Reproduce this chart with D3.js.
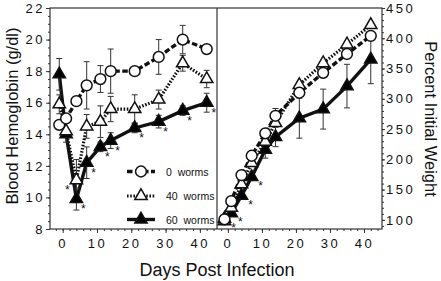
<!DOCTYPE html>
<html>
<head>
<meta charset="utf-8">
<script src="https://cdn.jsdelivr.net/npm/d3@7/dist/d3.min.js"></script>
<style>
  body { margin: 0; background: #fff; }
  svg { display: block; }
  text { font-family: "Liberation Sans", Arial, sans-serif; fill: #111; }
</style>
</head>
<body>
<div id="chart"></div>
<script>
// days after infection (same for both panels)
const days = [-1, 1, 4, 7, 11, 14, 21, 28, 35, 42];
const seriesNames = ["0  worms", "40  worms", "60  worms"];

// blood hemoglobin (g/dl)
const hb0 = [14.6, 15.0, 16.1, 17.1, 17.5, 18.0, 18.0, 18.9, 20.0, 19.4];
const hb40 = [15.9, 14.2, 11.1, 14.5, 14.8, 15.6, 15.6, 16.2, 18.5, 17.5];
const hb60 = [17.8, 14.0, 9.9, 12.2, 13.2, 13.6, 14.4, 14.8, 15.5, 16.0];
const hbErr0 = [0, 0, 0, 1.5, 0.85, 1.4, 0, 1.1, 0.9, 0];
const hbErr40 = [0.6, 0.7, 1.3, 0.75, 1.0, 0.8, 0.9, 0.6, 0.5, 0.55];
const hbErr60 = [1.0, 0, 0.7, 1.0, 0.3, 0.5, 0.3, 0.4, 0.3, 0.6];

// percent initial weight
const wt0 = [101, 131, 174, 206, 243, 272, 310, 343, 374, 404];
const wt40 = [98, 120, 159, 194, 229, 260, 323, 359, 390, 422];
const wt60 = [102, 111, 140, 171, 216, 237, 268, 283, 321, 365];
const wtErr0 = [0, 0, 0, 0, 0, 12, 0, 0, 0, 0];
const wtErr40 = [0, 0, 0, 0, 0, 0, 0, 0, 0, 0];
const wtErr60 = [0, 0, 0, 0, 14, 16, 33, 33, 36, 40];

// significance marks (days)
const hbStars60 = [4, 7, 11, 14, 21, 28, 35, 42];
const hbStars40 = [4];
const wtStars60 = [-1, 1, 4, 7];

const hbTicks = [8, 10, 12, 14, 16, 18, 20, 22];
const wtTicks = [100, 150, 200, 250, 300, 350, 400, 450];
const dayTicks = [0, 10, 20, 30, 40];

const W = 441, H = 281;
const plotTop = 8, plotBottom = 229;
const svg = d3.select("#chart").append("svg")
  .attr("width", W).attr("height", H);

const xL = d3.scaleLinear().domain([-3.7, 45]).range([50, 217]);
const xR = d3.scaleLinear().domain([-3.2, 45.3]).range([217, 382]);
const yL = d3.scaleLinear().domain([8, 22]).range([plotBottom, plotTop]);
const yR = d3.scaleLinear().domain([85, 450]).range([plotBottom, plotTop]);

const series = [
  { name: seriesNames[0], hb: hb0, hbErr: hbErr0, wt: wt0, wtErr: wtErr0, shape: "circle", fill: "#fff", dash: "5.5,2.5", sw: 3.4 },
  { name: seriesNames[1], hb: hb40, hbErr: hbErr40, wt: wt40, wtErr: wtErr40, shape: "tri", fill: "#fff", dash: "1.6,1.6", sw: 3.2 },
  { name: seriesNames[2], hb: hb60, hbErr: hbErr60, wt: wt60, wtErr: wtErr60, shape: "tri", fill: "#000", dash: null, sw: 3.4 }
];

// axes
function styleAxis(g) {
  g.select(".domain").remove();
  g.selectAll("line").attr("stroke", "#333");
  g.selectAll("text")
    .style("font-size", "13px")
    .style("letter-spacing", "2.5px")
    .attr("fill", "#111");
}

svg.append("g").attr("transform", `translate(50,0)`)
  .call(d3.axisLeft(yL).tickValues(hbTicks).tickSize(4).tickPadding(1).tickFormat(d3.format("d")))
  .call(styleAxis);
svg.append("g").attr("transform", `translate(50,0)`)
  .call(d3.axisLeft(yL).tickValues(d3.range(8, 22.01, 0.5)).tickSize(2).tickFormat(""))
  .call(styleAxis);

svg.append("g").attr("transform", `translate(382,0)`)
  .call(d3.axisRight(yR).tickValues(wtTicks).tickSize(3).tickPadding(1).tickFormat(d3.format("d")))
  .call(styleAxis);
svg.append("g").attr("transform", `translate(382,0)`)
  .call(d3.axisRight(yR).tickValues(d3.range(90, 451, 10)).tickSize(2).tickFormat(""))
  .call(styleAxis);

[xL, xR].forEach(x => {
  svg.append("g").attr("transform", `translate(0,${plotBottom})`)
    .call(d3.axisBottom(x).tickValues(dayTicks).tickSize(4).tickPadding(6).tickFormat(d3.format("d")))
    .call(styleAxis);
  svg.append("g").attr("transform", `translate(0,${plotBottom})`)
    .call(d3.axisBottom(x).tickValues(d3.range(-2, 45, 2)).tickSize(2).tickFormat(""))
    .call(styleAxis);
});

// frame
svg.append("rect")
  .attr("x", 50).attr("y", plotTop).attr("width", 332).attr("height", plotBottom - plotTop)
  .attr("fill", "none").attr("stroke", "#333").attr("stroke-width", 1.2);
svg.append("line")
  .attr("x1", 217).attr("x2", 217).attr("y1", plotTop).attr("y2", plotBottom)
  .attr("stroke", "#333").attr("stroke-width", 1.2);

// axis titles
svg.append("text")
  .attr("transform", "translate(18,116) rotate(-90)")
  .attr("text-anchor", "middle")
  .style("font-size", "16.5px")
  .text("Blood Hemoglobin (g/dl)");
svg.append("text")
  .attr("transform", "translate(425,119) rotate(90)")
  .attr("text-anchor", "middle")
  .style("font-size", "16.5px")
  .text("Percent Initial Weight");
svg.append("text")
  .attr("x", 217).attr("y", 276)
  .attr("text-anchor", "middle")
  .style("font-size", "18px")
  .text("Days Post Infection");

function marker(g, s, cx, cy) {
  if (s.shape === "circle") {
    g.append("circle").attr("cx", cx).attr("cy", cy).attr("r", 5.4)
      .attr("fill", s.fill).attr("stroke", "#111").attr("stroke-width", 1.5);
  } else {
    g.append("path").attr("d", d3.symbol(d3.symbolTriangle, 66)())
      .attr("transform", `translate(${cx},${cy})`)
      .attr("fill", s.fill).attr("stroke", "#111").attr("stroke-width", 1.5);
  }
}

function drawPanel(x, y, key, errKey) {
  const g = svg.append("g");
  series.forEach(s => {
    const pts = days.map((d, i) => [x(d), y(s[key][i])]);
    g.append("path")
      .attr("d", d3.line()(pts))
      .attr("fill", "none")
      .attr("stroke", "#111")
      .attr("stroke-width", s.sw)
      .attr("stroke-dasharray", s.dash);
  });
  series.forEach(s => {
    days.forEach((d, i) => {
      const e = s[errKey][i];
      if (!e) return;
      const cx = x(d), y1 = y(s[key][i] - e), y2 = y(s[key][i] + e);
      g.append("line").attr("x1", cx).attr("x2", cx).attr("y1", y1).attr("y2", y2)
        .attr("stroke", "#333").attr("stroke-width", 1);
      [y1, y2].forEach(yy => g.append("line")
        .attr("x1", cx - 3).attr("x2", cx + 3).attr("y1", yy).attr("y2", yy)
        .attr("stroke", "#333").attr("stroke-width", 1));
    });
  });
  [series[2], series[1], series[0]].forEach(s => {
    days.forEach((d, i) => marker(g, s, x(d), y(s[key][i])));
  });
  return g;
}

drawPanel(xL, yL, "hb", "hbErr");
drawPanel(xR, yR, "wt", "wtErr");

// asterisks
function star(cx, cy) {
  svg.append("text")
    .attr("x", cx).attr("y", cy + 7)
    .attr("text-anchor", "middle")
    .style("font-size", "12px")
    .text("*");
}
hbStars60.forEach(d => star(xL(d) + 7, yL(hb60[days.indexOf(d)]) + 7));
hbStars40.forEach(d => star(xL(d) - 9, yL(hb40[days.indexOf(d)]) + 7));
wtStars60.forEach(d => star(xR(d) + 9, yR(wt60[days.indexOf(d)]) + 6));

// legend
const legendY = [171.5, 196, 219.5];
series.forEach((s, i) => {
  const g = svg.append("g").attr("transform", `translate(127,${legendY[i]})`);
  g.append("line").attr("x1", 0).attr("x2", 28).attr("y1", 0).attr("y2", 0)
    .attr("stroke", "#111").attr("stroke-width", s.sw).attr("stroke-dasharray", s.dash);
  marker(g, s, 14, 0);
  g.append("text").attr("x", 39).attr("y", 4)
    .style("font-size", "10.5px")
    .style("white-space", "pre")
    .text(s.name);
});
</script>
</body>
</html>
